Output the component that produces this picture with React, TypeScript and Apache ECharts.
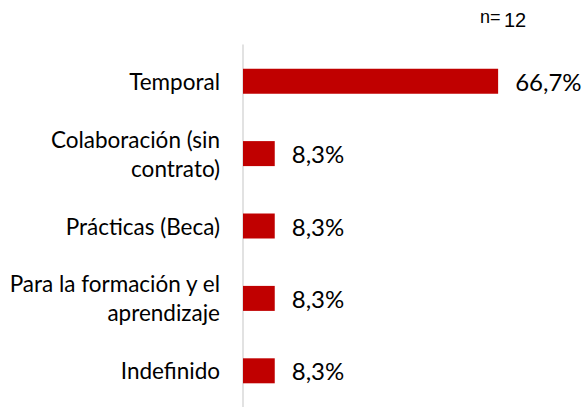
import React, { useEffect, useRef } from "react";
import * as echarts from "echarts";

const categories = [
  "Temporal",
  "Colaboración (sin\ncontrato)",
  "Prácticas (Beca)",
  "Para la formación y el\naprendizaje",
  "Indefinido",
];
const values = [66.7, 8.3, 8.3, 8.3, 8.3];
const sampleSize = "12";

export default function App() {
  const ref = useRef<HTMLDivElement>(null);
  useEffect(() => {
    if (!ref.current) return;
    const chart = echarts.init(ref.current, null, { renderer: "svg" });
    chart.setOption({
      animation: false,
      backgroundColor: "#ffffff",
      grid: { left: 243, top: 45, width: 306, bottom: 0, containLabel: false },
      xAxis: {
        type: "value",
        min: 0,
        max: 80,
        show: false,
        splitLine: { show: false },
      },
      yAxis: {
        type: "category",
        data: categories,
        inverse: true,
        axisLine: { show: true, lineStyle: { color: "#d9d9d9", width: 1.5 } },
        axisTick: { show: false },
        axisLabel: {
          margin: 23,
          fontSize: 22.5,
          fontFamily: "Lato",
          color: "#000000",
          lineHeight: 29,
          align: "right",
        },
      },
      series: [
        {
          type: "bar",
          data: values,
          barWidth: 25,
          itemStyle: { color: "#C00000" },
          label: {
            show: true,
            position: "right",
            distance: 17,
            fontSize: 24,
            fontFamily: "Lato",
            color: "#000000",
            formatter: (p: any) => p.value.toFixed(1).replace(".", ",") + "%",
          },
        },
      ],
      graphic: [
        {
          type: "text",
          left: 480,
          top: 8,
          style: { text: "n=", fontSize: 18, fontFamily: "Liberation Sans", fill: "#000" },
        },
        {
          type: "text",
          left: 504,
          top: 10,
          style: { text: sampleSize, fontSize: 20, fontFamily: "Liberation Sans", fill: "#000" },
        },
      ],
    });
    return () => chart.dispose();
  }, []);
  return (
    <div
      ref={ref}
      style={{ position: "fixed", left: 0, top: 0, width: 584, height: 407 }}
    />
  );
}
